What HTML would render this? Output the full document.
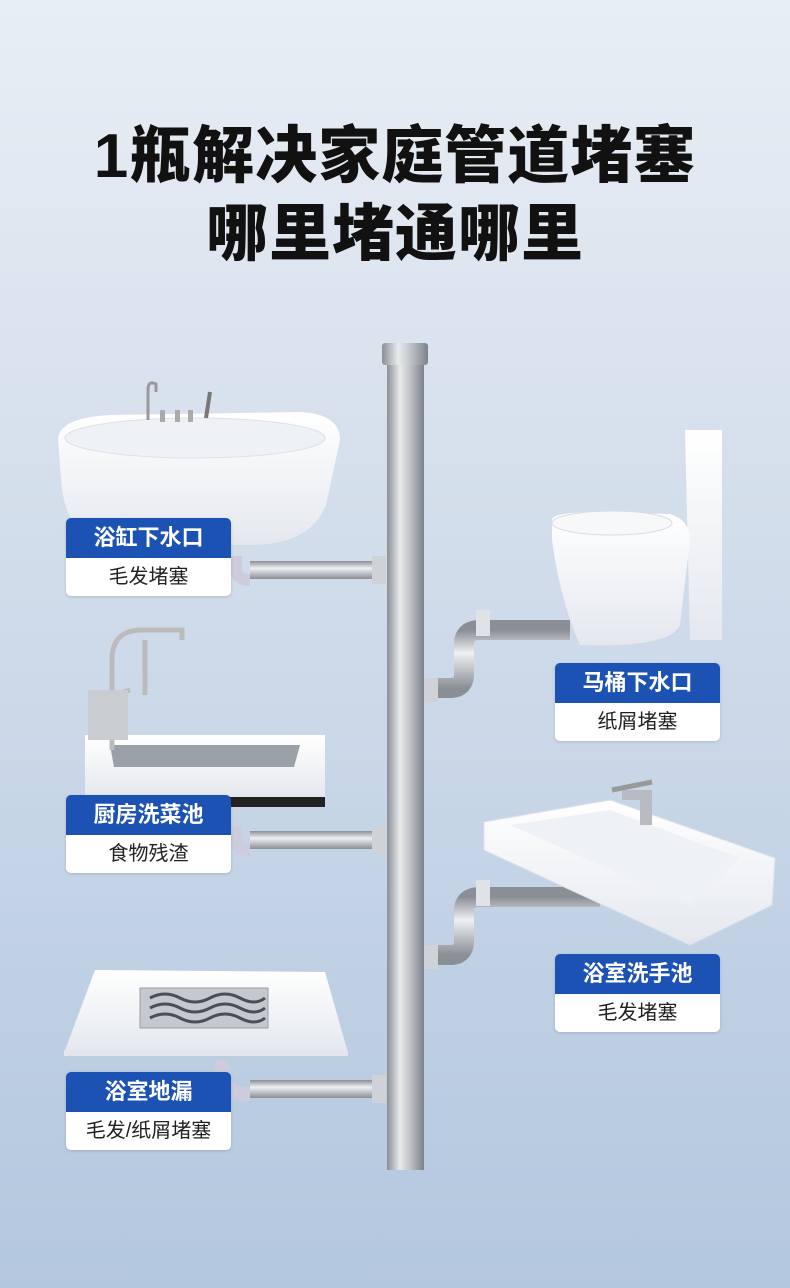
<!DOCTYPE html>
<html><head><meta charset="utf-8">
<style>
body{margin:0;width:790px;height:1288px;overflow:hidden;font-family:"Liberation Sans","Noto Sans CJK SC",sans-serif}
.t{position:absolute;left:0;width:790px;text-align:center;font-weight:900;color:#111;font-size:62px;letter-spacing:1px}
.lb{position:absolute;width:165px;height:78px;border-radius:5px;overflow:hidden;box-shadow:0 1px 3px rgba(0,0,0,.15)}
.lb .a{height:40px;background:#1d52b5;color:#fff;font-size:22px;font-weight:bold;line-height:40px;text-align:center}
.lb .b{height:38px;background:#fff;color:#222;font-size:20px;line-height:38px;text-align:center}
</style></head><body>
<svg width="790" height="1288" style="position:absolute;left:0;top:0">
<defs>
<linearGradient id="bg" x1="0" y1="0" x2="0" y2="1"><stop offset="0" stop-color="#e9eef5"/><stop offset="0.4" stop-color="#d3deeb"/><stop offset="1" stop-color="#b3c7df"/></linearGradient>
<linearGradient id="pv" x1="0" y1="0" x2="1" y2="0"><stop offset="0" stop-color="#8a8f96"/><stop offset="0.35" stop-color="#e8eaec"/><stop offset="0.6" stop-color="#c3c7cc"/><stop offset="1" stop-color="#7d828a"/></linearGradient>
<linearGradient id="ph" x1="0" y1="0" x2="0" y2="1"><stop offset="0" stop-color="#8a8f96"/><stop offset="0.4" stop-color="#eef0f2"/><stop offset="1" stop-color="#8a8f96"/></linearGradient>
<linearGradient id="wh" x1="0" y1="0" x2="0" y2="1"><stop offset="0" stop-color="#ffffff"/><stop offset="1" stop-color="#e4e8ee"/></linearGradient>
</defs>
<rect width="790" height="1288" fill="url(#bg)"/>
<!-- horizontal pipes -->
<rect x="250" y="561" width="135" height="18" fill="url(#ph)"/>
<rect x="250" y="831" width="135" height="18" fill="url(#ph)"/>
<rect x="250" y="1080" width="135" height="18" fill="url(#ph)"/>
<path d="M236 556 v12 q0 12 14 12" stroke="#ccd" stroke-width="12" fill="none"/>
<path d="M236 826 v12 q0 12 14 12" stroke="#ccd" stroke-width="12" fill="none"/>
<path d="M222 1060 v14 q0 20 28 20" stroke="#ccd" stroke-width="14" fill="none"/>
<rect x="372" y="556" width="14" height="28" fill="#cfd3d8"/>
<rect x="372" y="826" width="14" height="28" fill="#cfd3d8"/>
<rect x="372" y="1075" width="14" height="28" fill="#cfd3d8"/>
<!-- right elbows -->
<path d="M430 688 h20 q14 0 14 -14 v-30 q0 -14 16 -14 h90" stroke="url(#ph)" stroke-width="20" fill="none"/>
<path d="M476 623 h14" stroke="#dfe2e6" stroke-width="26"/>
<rect x="424" y="678" width="14" height="24" fill="#cfd3d8"/>
<path d="M430 955 h20 q14 0 14 -14 v-30 q0 -14 16 -14 h120" stroke="url(#ph)" stroke-width="20" fill="none"/>
<path d="M476 893 h14" stroke="#dfe2e6" stroke-width="26"/>
<rect x="424" y="945" width="14" height="24" fill="#cfd3d8"/>
<!-- vertical pipe -->
<rect x="387" y="350" width="37" height="820" fill="url(#pv)"/>
<rect x="382" y="343" width="46" height="22" rx="3" fill="url(#pv)"/>
<!-- bathtub -->
<path d="M58 440 Q58 418 110 415 L300 412 Q340 414 340 440 L326 505 Q310 545 250 545 L110 545 Q70 540 62 490 Z" fill="url(#wh)"/>
<ellipse cx="195" cy="438" rx="130" ry="20" fill="#eef1f5" stroke="#dde2e9"/>
<path d="M148 420 v-30 q0 -10 8 -6 v8" stroke="#999" stroke-width="3" fill="none"/>
<rect x="160" y="410" width="5" height="12" fill="#aaa"/><rect x="175" y="410" width="5" height="12" fill="#aaa"/><rect x="188" y="410" width="5" height="12" fill="#aaa"/>
<path d="M206 418 l4 -26" stroke="#777" stroke-width="4"/>
<!-- toilet -->
<path d="M685 430 L722 430 L722 640 L690 640 Z" fill="url(#wh)"/>
<path d="M552 520 Q552 512 600 512 L670 514 Q690 520 690 540 L680 625 Q670 648 580 645 Q560 600 552 540 Z" fill="url(#wh)"/>
<ellipse cx="612" cy="523" rx="60" ry="12" fill="#f6f8fa" stroke="#d8dde4"/>
<!-- kitchen sink -->
<rect x="85" y="735" width="240" height="62" fill="url(#wh)"/>
<rect x="85" y="797" width="240" height="10" fill="#222"/>
<path d="M110 745 h190 l-6 22 h-180 z" fill="#9aa0a7"/>
<path d="M112 750 v-90 q0 -30 30 -30 h40 v10 M145 640 v55 M100 700 l30 -10" stroke="#bbb" stroke-width="5" fill="none"/>
<rect x="88" y="690" width="40" height="50" fill="#c9ccd0"/>
<!-- bathroom sink -->
<path d="M484 822 L610 800 L775 858 L772 905 L690 945 L484 850 Z" fill="url(#wh)" stroke="#dde2e9"/>
<path d="M510 825 L610 810 L740 858 L690 905 Z" fill="#eef1f5"/>
<path d="M622 800 v-10 h30 v35 h-12 v-25" fill="#b8bcc2"/>
<path d="M612 790 l40 -8" stroke="#999" stroke-width="5"/>
<!-- floor drain -->
<path d="M95 970 L325 972 L348 1053 L64 1053 Z" fill="url(#wh)"/>
<rect x="64" y="1050" width="284" height="6" fill="#e3e7ed"/>
<rect x="140" y="988" width="128" height="40" fill="#c5c9ce" stroke="#9ba0a6"/>
<path d="M150 998 q15 -8 30 0 t30 0 t30 0 t25 0 M150 1008 q15 -8 30 0 t30 0 t30 0 t25 0 M150 1018 q15 -8 30 0 t30 0 t30 0 t25 0" stroke="#4a4f56" stroke-width="3" fill="none"/>
</svg>
<div class="t" style="top:105px">1瓶解决家庭管道堵塞</div>
<div class="t" style="top:183px">哪里堵通哪里</div>
<div class="lb" style="left:66px;top:518px"><div class="a">浴缸下水口</div><div class="b">毛发堵塞</div></div>
<div class="lb" style="left:555px;top:663px"><div class="a">马桶下水口</div><div class="b">纸屑堵塞</div></div>
<div class="lb" style="left:66px;top:795px"><div class="a">厨房洗菜池</div><div class="b">食物残渣</div></div>
<div class="lb" style="left:555px;top:954px"><div class="a">浴室洗手池</div><div class="b">毛发堵塞</div></div>
<div class="lb" style="left:66px;top:1072px"><div class="a">浴室地漏</div><div class="b">毛发/纸屑堵塞</div></div>
</body></html>
